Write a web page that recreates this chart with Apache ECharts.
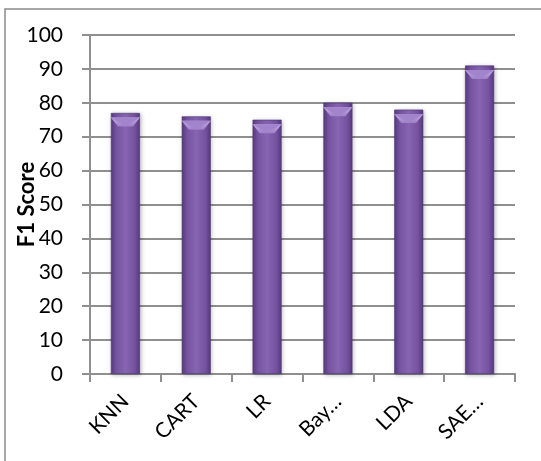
<!DOCTYPE html>
<html>
<head>
<meta charset="utf-8">
<script src="https://cdn.jsdelivr.net/npm/echarts@6/dist/echarts.min.js"></script>
<style>
  html, body { margin: 0; padding: 0; background: #fff; }
  #chart { width: 541px; height: 461px; }
</style>
</head>
<body>
<div id="chart"></div>
<script>
// Classifier names and their F1 scores
const categories = ['KNN', 'CART', 'LR', 'Bay\u2026', 'LDA', 'SAE\u2026'];
const f1Scores = [77, 76, 75, 80, 78, 91];
const yTicks = { min: 0, max: 100, interval: 10 };
const yTitle = 'F1 Score';

const font = 'Lato, "Open Sans", "Liberation Sans", sans-serif';
const gridGray = '#8f8f8f';

const chart = echarts.init(document.getElementById('chart'), null, { renderer: 'canvas' });

const barFill = new echarts.graphic.LinearGradient(0, 0, 1, 0, [
  { offset: 0, color: '#5a3b82' },
  { offset: 0.18, color: '#7553a0' },
  { offset: 0.5, color: '#8765b3' },
  { offset: 0.82, color: '#7452a0' },
  { offset: 1, color: '#573a7f' }
]);

const capFill = new echarts.graphic.LinearGradient(0, 0, 0, 1, [
  { offset: 0, color: '#c4aee2' },
  { offset: 1, color: '#9d7fc6' }
]);

chart.setOption({
  animation: false,
  backgroundColor: '#fff',
  graphic: [{
    type: 'rect',
    shape: { x: 5, y: 9, width: 560, height: 480 },
    style: { fill: 'none', stroke: '#8a8a8a', lineWidth: 1.5 },
    silent: true,
    z: -10
  }],
  grid: { left: 90, right: 26, top: 35, bottom: 87, containLabel: false, outerBoundsMode: 'none' },
  xAxis: {
    type: 'category',
    data: categories,
    axisLine: { lineStyle: { color: gridGray, width: 2 } },
    axisTick: { show: true, length: 8, lineStyle: { color: gridGray, width: 2 } },
    axisLabel: {
      rotate: 45,
      margin: 24,
      color: '#000',
      fontSize: 21,
      fontFamily: font
    }
  },
  yAxis: {
    type: 'value',
    min: yTicks.min,
    max: yTicks.max,
    interval: yTicks.interval,
    name: yTitle,
    nameLocation: 'middle',
    nameGap: 52,
    nameRotate: 90,
    nameMoveOverlap: false,
    nameTextStyle: { color: '#000', fontSize: 22, fontWeight: 'bold', fontFamily: font },
    axisLine: { show: true, lineStyle: { color: gridGray, width: 2 } },
    axisTick: { show: true, length: 8, lineStyle: { color: gridGray, width: 2 } },
    axisLabel: { margin: 27, color: '#000', fontSize: 21, fontFamily: font },
    splitLine: { lineStyle: { color: gridGray, width: 2 } }
  },
  series: [
    {
      type: 'bar',
      data: f1Scores,
      barWidth: 29,
      itemStyle: {
        color: barFill,
        borderColor: '#4e3473',
        borderWidth: 0.6,
        shadowColor: 'rgba(0,0,0,0.25)',
        shadowBlur: 4,
        shadowOffsetX: 1,
        shadowOffsetY: 1
      },
      z: 2
    },
    {
      // bevelled cap on top of each bar
      type: 'pictorialBar',
      data: f1Scores,
      symbol: 'path://M0,0 L29,0 L22,9 L7,9 Z',
      symbolSize: [29, 9],
      symbolPosition: 'end',
      symbolOffset: [0, '50%'],
      itemStyle: { color: capFill },
      silent: true,
      z: 3
    },
    {
      type: 'pictorialBar',
      data: f1Scores,
      symbol: 'path://M0,0 L29,0 L14.5,9 Z',
      symbolSize: [29, 9],
      symbolPosition: 'end',
      symbolOffset: [0, '50%'],
      itemStyle: { color: '#a284cc' },
      silent: true,
      z: 4
    }
  ]
});
</script>
</body>
</html>
